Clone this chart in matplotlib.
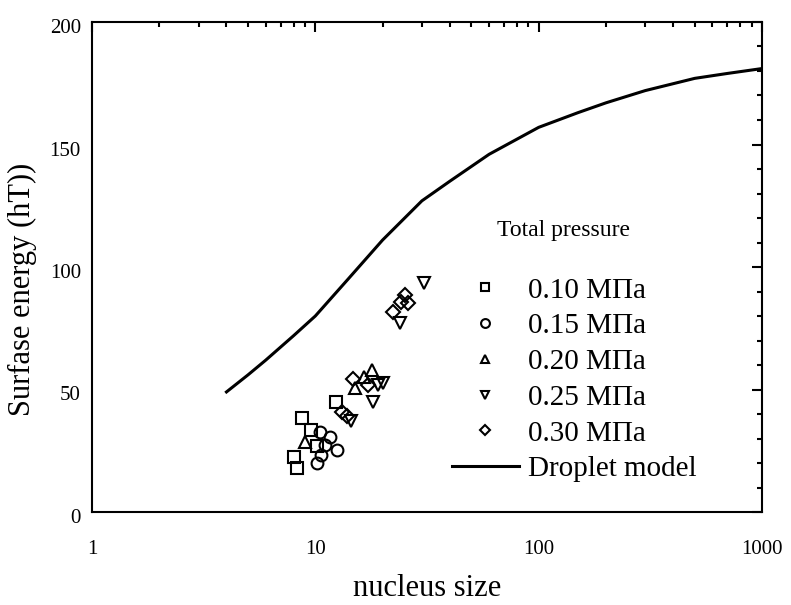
import matplotlib
matplotlib.use("Agg")
import matplotlib.pyplot as plt
import numpy as np
from matplotlib.ticker import LogLocator, MultipleLocator, FixedLocator, NullFormatter
from matplotlib.transforms import ScaledTranslation

plt.rcParams['font.family'] = ['Liberation Serif', 'DejaVu Serif']

# data (nucleus size, surface energy)
p010_x = [8.7, 12.4, 9.6, 8.0, 8.3, 10.2]
p010_y = [38.5, 44.8, 33.5, 22.6, 18.1, 26.9]
p015_x = [10.5, 11.6, 11.1, 12.5, 10.6, 10.2]
p015_y = [32.8, 30.5, 27.3, 25.3, 23.3, 19.9]
p020_x = [9.0, 17.9, 16.5, 15.1]
p020_y = [28.7, 58.0, 55.1, 50.6]
p025_x = [14.5, 18.1, 19.1, 20.1, 23.9, 30.7]
p025_y = [37.1, 44.9, 51.8, 52.7, 77.1, 93.5]
p030_x = [13.2, 13.9, 14.8, 17.2, 22.3, 24.2, 25.2, 26.0]
p030_y = [40.8, 39.2, 54.3, 51.8, 81.6, 85.7, 88.6, 85.4]

model_x = [4, 5, 6, 8, 10, 14, 20, 30, 40, 60, 100, 150, 200, 300, 500, 700, 1000]
model_y = [49, 56, 62, 72, 80, 95, 111, 127, 135, 146, 157, 163, 167, 172, 177, 179, 181]

series = [
    (p010_x, p010_y, 's', '0.10 MПa'),
    (p015_x, p015_y, 'o', '0.15 MПa'),
    (p020_x, p020_y, '^', '0.20 MПa'),
    (p025_x, p025_y, 'v', '0.25 MПa'),
    (p030_x, p030_y, 'D', '0.30 MПa'),
]

fig = plt.figure(figsize=(7.91, 6.05), dpi=100)
ax = fig.add_axes([92/791, 93/605, 670/791, 490/605])

for xs, ys, m, lab in series:
    ms = 7 if m == 'D' else 8.5
    ax.plot(xs, ys, linestyle='none', marker=m, markersize=ms, markerfacecolor='none',
            markeredgecolor='black', markeredgewidth=1.5, label=lab)
ax.plot(model_x, model_y, color='black', linewidth=2.2, label='Droplet model')

ax.set_xscale('log')
ax.set_xlim(1, 1000)
ax.set_ylim(0, 200)
ax.xaxis.set_major_locator(FixedLocator([1, 10, 100, 1000]))
ax.xaxis.set_minor_locator(LogLocator(base=10, subs=np.arange(2, 10)))
ax.xaxis.set_minor_formatter(NullFormatter())
ax.set_xticklabels(['1', '10', '100', '1000'])
ax.yaxis.set_major_locator(MultipleLocator(50))
ax.yaxis.set_minor_locator(MultipleLocator(10))

ax.tick_params(which='both', direction='in', left=False, bottom=False,
               right=True, top=True, labelsize=15, width=1.5)
ax.tick_params(axis='y', pad=8)
ax.tick_params(axis='x', pad=20)
ax.tick_params(which='major', length=7)
ax.tick_params(which='minor', length=3.5)
for s in ax.spines.values():
    s.set_linewidth(1.5)
# y tick labels sit a little low in the original
for t in ax.get_yticklabels():
    t.set_transform(t.get_transform() + ScaledTranslation(0, -0.04, fig.dpi_scale_trans))

ax.set_xlabel('nucleus size', fontsize=22, labelpad=11)
ax.set_ylabel('Surfase energy (hT))', fontsize=22)
ax.yaxis.set_label_coords(-0.082, 0.455)

ax.text(0.703, 0.575, 'Total pressure', transform=ax.transAxes, fontsize=17,
        ha='center', va='center')
leg = ax.legend(frameon=False, fontsize=21,
                loc='upper left', bbox_to_anchor=(0.537, 0.479), handlelength=2.3,
                labelspacing=0.32, markerscale=0.75, handletextpad=0.3,
                borderaxespad=0, borderpad=0)

fig.savefig('out.png', dpi=100)
